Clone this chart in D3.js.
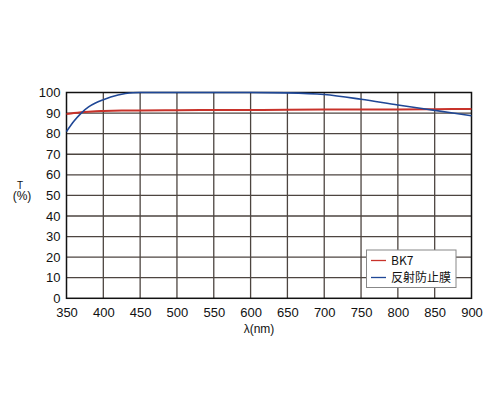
<!DOCTYPE html>
<html><head><meta charset="utf-8">
<script src="https://cdn.jsdelivr.net/npm/d3@7"></script>
<style>body{margin:0;background:#fff}svg{display:block}</style>
</head><body>
<svg id="c" width="500" height="417"></svg>
<script>
const bk7Wl = [350,360,370,380,390,400,425,450,500,550,600,650,700,750,800,850,900];
const bk7T  = [89.5,90.0,90.4,90.7,90.9,91.0,91.2,91.3,91.4,91.5,91.5,91.6,91.7,91.8,91.8,91.9,92.0];
const arWl = [350,360,370,380,390,400,410,420,430,440,450,500,550,600,650,700,750,800,850,900];
const arT  = [81,86,90,93,95,96.5,97.8,98.8,99.5,99.9,100,100,100,100,99.8,99.0,96.7,93.9,91.3,88.7];
const xTicks = [350,400,450,500,550,600,650,700,750,800,850,900];
const yTicks = [0,10,20,30,40,50,60,70,80,90,100];
const legendLabels = ["BK7","反射防止膜"];
const colors = ["#c8322a","#1f4796"];

const svg = d3.select("#c");
const L=66.5,R=471.5,T=92.5,B=298.3;
const x = d3.scaleLinear().domain([350,900]).range([L,R]);
const y = d3.scaleLinear().domain([0,100]).range([B,T]);
const font = "'Liberation Sans', Arial, sans-serif";

// grid
svg.append("g").selectAll("line.v").data(xTicks.slice(1,-1)).join("line")
  .attr("x1",d=>x(d)).attr("x2",d=>x(d)).attr("y1",T).attr("y2",B)
  .attr("stroke","#4d4540").attr("stroke-width",1.3);
svg.append("g").selectAll("line.h").data(yTicks.slice(1,-1)).join("line")
  .attr("y1",d=>y(d)).attr("y2",d=>y(d)).attr("x1",L).attr("x2",R)
  .attr("stroke","#4d4540").attr("stroke-width",1.3);
svg.append("rect").attr("x",L).attr("y",T).attr("width",R-L).attr("height",B-T)
  .attr("fill","none").attr("stroke","#111").attr("stroke-width",1.5);

// axes labels
const xa = svg.append("g").attr("transform",`translate(0,${B})`)
  .call(d3.axisBottom(x).tickValues(xTicks).tickSize(0).tickPadding(9));
xa.select(".domain").remove();
xa.selectAll("text").attr("font-family",font).attr("font-size",13).attr("fill","#111");
const ya = svg.append("g").attr("transform",`translate(${L},0)`)
  .call(d3.axisLeft(y).tickValues(yTicks).tickSize(0).tickPadding(6));
ya.select(".domain").remove();
ya.selectAll("text").attr("font-family",font).attr("font-size",13).attr("fill","#111");

svg.append("text").attr("x",20).attr("y",188.5).attr("text-anchor","middle")
  .attr("font-family",font).attr("font-size",10).attr("fill","#111").text("T");
svg.append("text").attr("x",22).attr("y",200).attr("text-anchor","middle")
  .attr("font-family",font).attr("font-size",12).attr("fill","#111").text("(%)");
svg.append("text").attr("x",259).attr("y",332.5).attr("text-anchor","middle")
  .attr("font-family",font).attr("font-size",12).attr("fill","#111").text("λ(nm)");

// lines
const line = d3.line().x(d=>x(d[0])).y(d=>y(d[1])).curve(d3.curveMonotoneX);
svg.append("path").datum(bk7Wl.map((w,i)=>[w,bk7T[i]])).attr("d",line)
  .attr("fill","none").attr("stroke",colors[0]).attr("stroke-width",2);
svg.append("path").datum(arWl.map((w,i)=>[w,arT[i]])).attr("d",line)
  .attr("fill","none").attr("stroke",colors[1]).attr("stroke-width",1.6);

// legend
const lg = svg.append("g");
lg.append("rect").attr("x",366.5).attr("y",250).attr("width",89.5).attr("height",37.5)
  .attr("fill","#fff").attr("stroke","#888").attr("stroke-width",1);
legendLabels.forEach((t,i)=>{
  const yy = 260.5 + i*17;
  lg.append("line").attr("x1",371).attr("x2",386).attr("y1",yy).attr("y2",yy)
    .attr("stroke",colors[i]).attr("stroke-width",1.3);
  lg.append("text").attr("x",391).attr("y",yy+4.5)
    .attr("font-family","'Noto Sans CJK JP', sans-serif").attr("font-size",12).attr("fill","#111").text(t);
});
</script>
</body></html>
